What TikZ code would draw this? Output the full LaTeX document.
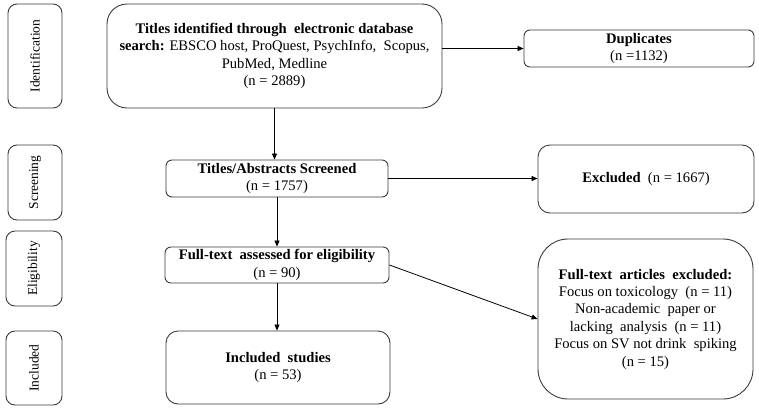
\documentclass[tikz,border=0pt]{standalone}
\usepackage{fontspec}
\setmainfont{Liberation Serif}
\usetikzlibrary{arrows.meta}

\definecolor{boxline}{HTML}{3A3A3A}

\tikzset{
    box/.style={draw=boxline, line width=0.9pt, align=center, inner sep=2pt,
        font=\fontsize{14.6}{17.2}\selectfont},
    stage/.style={draw=boxline, line width=0.9pt, rounded corners=9pt,
        font=\fontsize{13.5}{15}\selectfont},
    arr/.style={draw=black, line width=0.8pt, -{Triangle[length=6pt,width=5pt]}}
}

\begin{document}
\begin{tikzpicture}[x=1pt, y=-1pt]
    \useasboundingbox (0,0) rectangle (759,410);

    % Stage labels on the left
    \foreach \name/\x/\y/\w/\h/\txt in {ident/35/56/54/104/Identification,
                                       screen/35/182.5/54/75/Screening,
                                       elig/34/268.5/56/75/Eligibility,
                                       incl/34/368/56/74/Included}
        \node[stage, minimum width=\h, minimum height=\w, rotate=90] (\name) at (\x,\y) {\txt};

    % Main flow
    \node[box, rounded corners=20pt, minimum width=335, minimum height=104] (search) at (274.5,56)
        {\textbf{Titles identified through\ \ electronic database}\\
         \textbf{search:} EBSCO host, ProQuest, PsychInfo,\ \ Scopus,\\
         PubMed, Medline\\ (n = 2889)};
    \node[box, rounded corners=6pt, minimum width=222, minimum height=37] (screened) at (277,178.5)
        {\textbf{Titles/Abstracts Screened}\\ (n = 1757)};
    \node[box, rounded corners=6pt, minimum width=224, minimum height=36] (fulltext) at (277,265)
        {\textbf{Full-text\ \ assessed for eligibility}\\ (n = 90)};
    \node[box, rounded corners=12pt, minimum width=224, minimum height=73] (studies) at (278,367.5)
        {\textbf{Included\ \ studies}\\ (n = 53)};

    % Excluded records on the right
    \node[box, rounded corners=6pt, minimum width=230, minimum height=37] (dup) at (639,48.5)
        {\textbf{Duplicates}\\ (n =1132)};
    \node[box, rounded corners=12pt, minimum width=216, minimum height=68] (excl) at (646,179)
        {\textbf{Excluded}\ \ (n = 1667)};
    \node[box, rounded corners=30pt, minimum width=215, minimum height=160,
          font=\fontsize{14.6}{17.4}\selectfont] (ftexcl) at (645.5,319)
        {\textbf{Full-text\ \ articles\ \ excluded:}\\
         Focus on toxicology\ \ (n = 11)\\
         Non-academic\ \ paper or\\
         lacking\ \ analysis\ \ (n = 11)\\
         Focus on SV not drink\ \ spiking\\
         (n = 15)};

    % Arrows
    \draw[arr] (search.east |- dup) -- (dup.west);
    \draw[arr] (search.south) -- (search.south |- screened.north);
    \draw[arr] (screened.east) -- (excl.west |- screened.east);
    \draw[arr] (screened.south) -- (fulltext.north);
    \draw[arr] (fulltext.south) -- (fulltext.south |- studies.north);
    \draw[arr] (fulltext.east) -- (ftexcl.west);
\end{tikzpicture}
\end{document}
